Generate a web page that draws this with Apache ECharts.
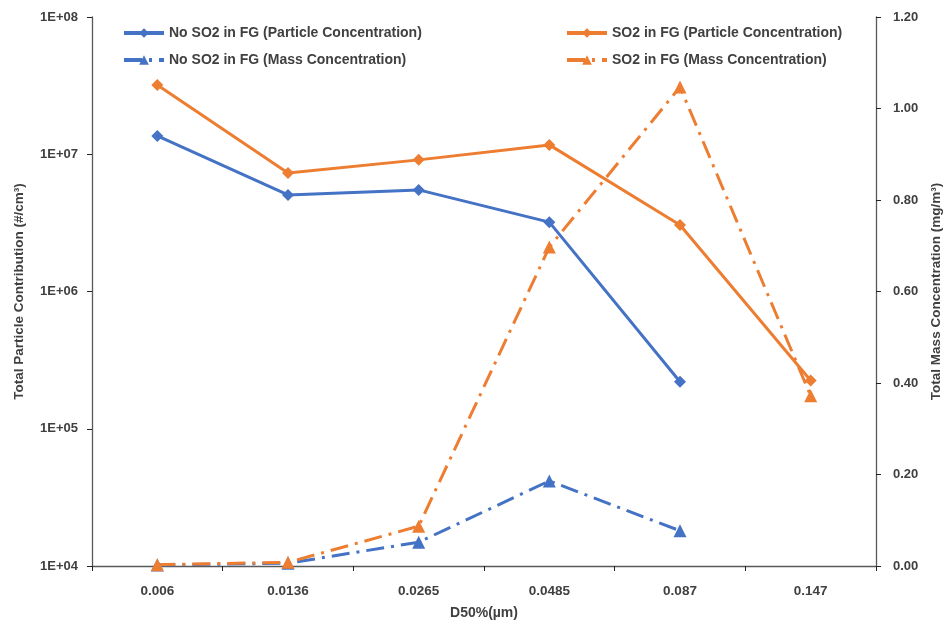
<!DOCTYPE html>
<html>
<head>
<meta charset="utf-8">
<script src="https://cdn.jsdelivr.net/npm/echarts@6/dist/echarts.min.js"></script>
<style>
html,body{margin:0;padding:0;background:#fff;}
#chart{width:948px;height:626px;}
</style>
</head>
<body>
<div id="chart"></div>
<script>
// Data
const categories = ['0.006', '0.0136', '0.0265', '0.0485', '0.087', '0.147'];
const noSO2Particle = [1.36e7, 5.05e6, 5.5e6, 3.2e6, 2.2e5, null];
const so2Particle = [3.2e7, 7.3e6, 9.1e6, 1.17e7, 3.05e6, 2.25e5];
const noSO2Mass = [0.002, 0.006, 0.052, 0.186, 0.077, null];
const so2Mass = [0.003, 0.008, 0.087, 0.697, 1.047, 0.372];
const seriesNames = [
  'No SO2 in FG (Particle Concentration)',
  'SO2 in FG (Particle Concentration)',
  'No SO2 in FG (Mass Concentration)',
  'SO2 in FG (Mass Concentration)'
];
const leftTickLabels = ['1E+04', '1E+05', '1E+06', '1E+07', '1E+08'];
const rightTickLabels = ['0.00', '0.20', '0.40', '0.60', '0.80', '1.00', '1.20'];

const BLUE = '#4472C4';
const ORANGE = '#ED7D31';
const FONT = 'Liberation Sans';
const TXT = '#404040';
const AX = '#595959';
const dashDot = [18, 7, 3, 7];

const chart = echarts.init(document.getElementById('chart'), null, {renderer: 'canvas'});

function legendAt(name, left, top) {
  return {
    data: [name],
    left: left, top: top,
    padding: 0,
    itemWidth: 40, itemHeight: 12,
    lineStyle: {width: 4},
    textStyle: {fontFamily: FONT, fontSize: 14, fontWeight: 'bold', color: TXT},
    itemGap: 4,
    selectedMode: false
  };
}

const option = {
  animation: false,
  backgroundColor: '#fff',
  legend: [
    legendAt(seriesNames[0], 122, 26),
    legendAt(seriesNames[1], 565, 26),
    legendAt(seriesNames[2], 122, 53),
    legendAt(seriesNames[3], 565, 53)
  ],
  grid: {left: 92, right: 72, top: 17, bottom: 60, containLabel: false, outerBoundsMode: 'none'},
  xAxis: {
    type: 'category',
    data: categories,
    name: 'D50%(µm)',
    nameLocation: 'middle',
    nameGap: 40,
    nameTextStyle: {fontFamily: FONT, fontSize: 14, fontWeight: 'bold', color: TXT},
    axisLine: {lineStyle: {color: AX, width: 1.3}},
    axisTick: {show: true, length: 5, lineStyle: {color: '#222'}},
    axisLabel: {fontFamily: FONT, fontSize: 13.5, fontWeight: 'bold', color: TXT, margin: 18},
    splitLine: {show: false}
  },
  yAxis: [
    {
      type: 'log',
      logBase: 10,
      min: 1e4,
      max: 1e8,
      position: 'left',
      name: 'Total Particle Contribution (#/cm³)',
      nameLocation: 'middle',
      nameGap: 66,
      nameTextStyle: {fontFamily: FONT, fontSize: 13.5, fontWeight: 'bold', color: TXT},
      axisLine: {show: true, lineStyle: {color: AX, width: 1.3}},
      axisTick: {show: true, length: 5, lineStyle: {color: '#222'}},
      axisLabel: {
        fontFamily: FONT, fontSize: 13, fontWeight: 'bold', color: TXT, margin: 14,
        formatter: function (v) {
          const e = Math.round(Math.log10(v));
          return leftTickLabels[e - 4];
        }
      },
      splitLine: {show: false},
      minorTick: {show: false}
    },
    {
      type: 'value',
      min: 0,
      max: 1.2,
      interval: 0.2,
      position: 'right',
      name: 'Total Mass Concentration (mg/m³)',
      nameLocation: 'middle',
      nameGap: 53,
      nameRotate: 90,
      nameTextStyle: {fontFamily: FONT, fontSize: 13.5, fontWeight: 'bold', color: TXT},
      axisLine: {show: true, lineStyle: {color: AX, width: 1.3}},
      axisTick: {show: true, length: 5, lineStyle: {color: '#222'}},
      axisLabel: {
        fontFamily: FONT, fontSize: 13, fontWeight: 'bold', color: TXT, margin: 17,
        formatter: function (v) {
          return rightTickLabels[Math.round(v / 0.2)];
        }
      },
      splitLine: {show: false}
    }
  ],
  series: [
    {
      name: seriesNames[0], type: 'line', yAxisIndex: 0, data: noSO2Particle,
      symbol: 'diamond', symbolSize: 12, showAllSymbol: true,
      lineStyle: {color: BLUE, width: 3}, itemStyle: {color: BLUE}, connectNulls: false
    },
    {
      name: seriesNames[1], type: 'line', yAxisIndex: 0, data: so2Particle,
      symbol: 'diamond', symbolSize: 12, showAllSymbol: true,
      lineStyle: {color: ORANGE, width: 3}, itemStyle: {color: ORANGE}
    },
    {
      name: seriesNames[2], type: 'line', yAxisIndex: 1, data: noSO2Mass,
      symbol: 'triangle', symbolSize: 13, showAllSymbol: true,
      lineStyle: {color: BLUE, width: 3, type: dashDot}, itemStyle: {color: BLUE}
    },
    {
      name: seriesNames[3], type: 'line', yAxisIndex: 1, data: so2Mass,
      symbol: 'triangle', symbolSize: 13, showAllSymbol: true,
      lineStyle: {color: ORANGE, width: 3, type: dashDot}, itemStyle: {color: ORANGE}
    }
  ]
};
chart.setOption(option);
</script>
</body>
</html>
